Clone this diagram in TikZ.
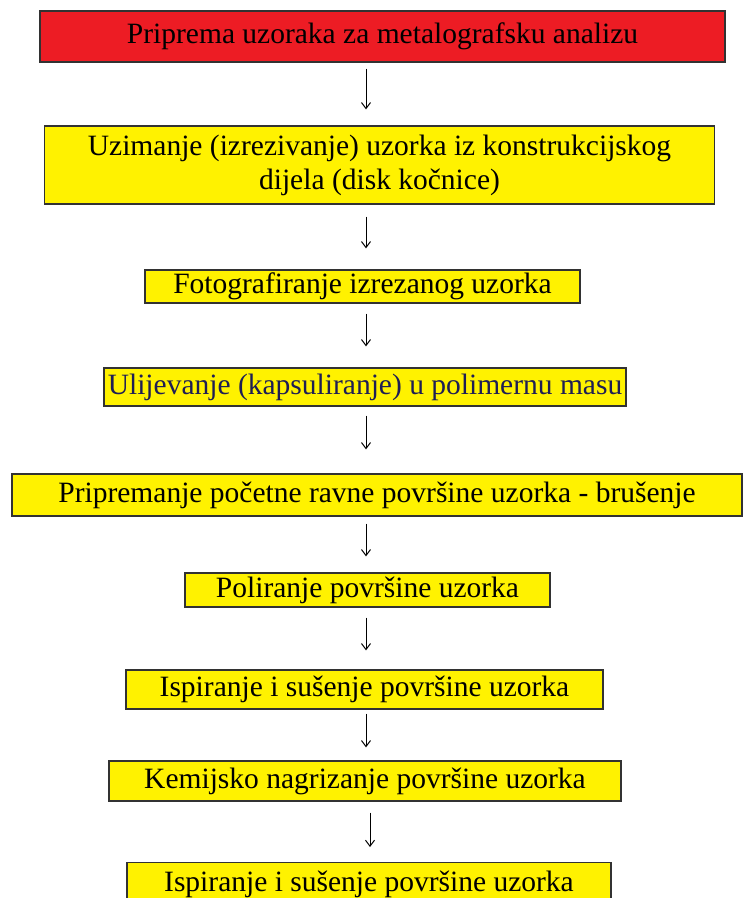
\documentclass[tikz,border=0pt]{standalone}
\usepackage{fontspec}
\setmainfont{Liberation Serif}
\usetikzlibrary{arrows.meta,positioning}
\definecolor{boxred}{RGB}{237,28,36}
\definecolor{boxyellow}{RGB}{255,242,0}
\definecolor{boxline}{RGB}{50,50,50}
\definecolor{navytext}{RGB}{30,30,85}
\tikzset{
  stepbox/.style={draw=boxline, line width=1.3pt, fill=boxyellow, inner sep=0pt,
    align=center, font=\fontsize{29.5}{34}\selectfont, text=black},
  redbox/.style={stepbox, fill=boxred},
  flowarrow/.style={draw=black, line width=1pt, -{Straight Barb[length=6pt,width=9pt,line width=1pt]}}
}
\begin{document}
\begin{tikzpicture}[x=1pt,y=-1pt]
\useasboundingbox (0,0) rectangle (744,898);
\fill[white] (0,0) rectangle (744,898);
\begin{scope}
\clip (0,0) rectangle (744,898);
\node[redbox, minimum width=685pt, minimum height=51pt] (b1) at (382.5,36.5) {Priprema uzoraka za metalografsku analizu};
\node[stepbox, minimum width=670pt, minimum height=78pt] (b2) at (379.5,165) {Uzimanje (izrezivanje) uzorka iz konstrukcijskog\\dijela (disk kočnice)};
\node[stepbox, minimum width=435pt, minimum height=33pt] (b3) at (362.5,286.5) {Fotografiranje izrezanog uzorka};
\node[stepbox, minimum width=522pt, minimum height=38pt, text=navytext] (b4) at (365,387) {Ulijevanje (kapsuliranje) u polimernu masu};
\node[stepbox, minimum width=730pt, minimum height=42pt] (b5) at (377,495) {Pripremanje početne ravne površine uzorka - brušenje};
\node[stepbox, minimum width=365pt, minimum height=34pt] (b6) at (367.5,590) {Poliranje površine uzorka};
\node[stepbox, minimum width=477pt, minimum height=39pt] (b7) at (364.5,689.5) {Ispiranje i sušenje površine uzorka};
\node[stepbox, minimum width=512pt, minimum height=40pt] (b8) at (365,781) {Kemijsko nagrizanje površine uzorka};
\node[stepbox, minimum width=484pt, minimum height=60pt, anchor=north] (b9) at (369,862) {\raisebox{22pt}{Ispiranje i sušenje površine uzorka}};
\end{scope}
\coordinate (ax) at (366,0);
\coordinate (ax2) at (370,0);
\draw[flowarrow, shorten <=6pt, shorten >=16pt] (b1.south -| ax) -- (b2.north -| ax);
\draw[flowarrow, shorten <=12pt, shorten >=21pt] (b2.south -| ax) -- (b3.north -| ax);
\draw[flowarrow, shorten <=10pt, shorten >=21pt] (b3.south -| ax) -- (b4.north -| ax);
\draw[flowarrow, shorten <=9pt, shorten >=24pt] (b4.south -| ax) -- (b5.north -| ax);
\draw[flowarrow, shorten <=7pt, shorten >=16pt] (b5.south -| ax) -- (b6.north -| ax);
\draw[flowarrow, shorten <=10pt, shorten >=19pt] (b6.south -| ax) -- (b7.north -| ax);
\draw[flowarrow, shorten <=4pt, shorten >=13pt] (b7.south -| ax) -- (b8.north -| ax);
\draw[flowarrow, shorten <=11pt, shorten >=15pt] (b8.south -| ax2) -- (b9.north -| ax2);
\end{tikzpicture}
\end{document}
